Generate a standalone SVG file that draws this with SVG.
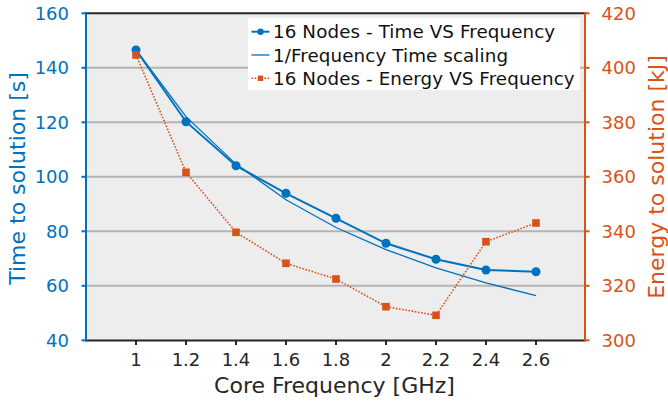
<svg xmlns="http://www.w3.org/2000/svg" width="668" height="401" viewBox="0 0 668 401">
<style>
text{font-family:"DejaVu Sans","Liberation Sans",sans-serif;}
.tl{font-size:18px;fill:#0072BD;text-anchor:end;}
.tr{font-size:18px;fill:#D95319;text-anchor:start;}
.tb{font-size:18px;fill:#262626;text-anchor:middle;}
.lab{font-size:22px;text-anchor:middle;}
.grid{stroke:#b4b4b4;stroke-width:2;}
.lg{font-size:18.3px;fill:#111;letter-spacing:0.1px;}
.time{fill:none;stroke:#0072BD;stroke-width:2;}
.rec{fill:none;stroke:#0072BD;stroke-width:1.3;}
.en{fill:none;stroke:#D95319;stroke-width:1.6;stroke-dasharray:1.6 1.6;}
</style>
<defs>
<circle id="cm" r="4.5" fill="#0072BD"/>
<rect id="sm" x="-3.8" y="-3.8" width="7.6" height="7.6" fill="#D95319"/>
</defs>
<rect width="668" height="401" fill="#ffffff"/>
<g id="plot-area">
<rect x="86" y="13" width="499" height="328" fill="#ededed"/>
<g id="gridlines">
<line class="grid" x1="86" y1="67.8" x2="585" y2="67.8"/>
<line class="grid" x1="86" y1="122.3" x2="585" y2="122.3"/>
<line class="grid" x1="86" y1="176.8" x2="585" y2="176.8"/>
<line class="grid" x1="86" y1="231.3" x2="585" y2="231.3"/>
<line class="grid" x1="86" y1="285.8" x2="585" y2="285.8"/>
</g>
</g>
<g id="series">
<g id="time-series">
<polyline class="time" points="136,50 186,121.7 236,165.7 286,193.3 336,218.3 386,243.3 436,259.3 486,270 536,271.7"/>
<use href="#cm" x="136" y="50"/><use href="#cm" x="186" y="121.7"/><use href="#cm" x="236" y="165.7"/><use href="#cm" x="286" y="193.3"/><use href="#cm" x="336" y="218.3"/><use href="#cm" x="386" y="243.3"/><use href="#cm" x="436" y="259.3"/><use href="#cm" x="486" y="270"/><use href="#cm" x="536" y="271.7"/>
</g>
<g id="reciprocal-series">
<polyline class="rec" points="136,50 186,116.6 236,164.1 286,199.7 336,227.5 386,249.6 436,267.8 486,282.9 536,295.7"/>
</g>
<g id="energy-series">
<polyline class="en" points="136,55 186,172.3 236,232.3 286,263.3 336,279 386,306.7 436,315.3 486,241.7 536,223"/>
<use href="#sm" x="136" y="55"/><use href="#sm" x="186" y="172.3"/><use href="#sm" x="236" y="232.3"/><use href="#sm" x="286" y="263.3"/><use href="#sm" x="336" y="279"/><use href="#sm" x="386" y="306.7"/><use href="#sm" x="436" y="315.3"/><use href="#sm" x="486" y="241.7"/><use href="#sm" x="536" y="223"/>
</g>
</g>
<g id="axes">
<line x1="85" y1="13.3" x2="586" y2="13.3" stroke="#262626" stroke-width="2"/>
<line x1="85" y1="340.5" x2="586" y2="340.5" stroke="#262626" stroke-width="2"/>
<g id="x-ticks" stroke="#262626" stroke-width="2">
<line x1="136" y1="340" x2="136" y2="345"/><line x1="186" y1="340" x2="186" y2="345"/><line x1="236" y1="340" x2="236" y2="345"/><line x1="286" y1="340" x2="286" y2="345"/><line x1="336" y1="340" x2="336" y2="345"/><line x1="386" y1="340" x2="386" y2="345"/><line x1="436" y1="340" x2="436" y2="345"/><line x1="486" y1="340" x2="486" y2="345"/><line x1="536" y1="340" x2="536" y2="345"/>
</g>
<line x1="86" y1="12.3" x2="86" y2="341.5" stroke="#0072BD" stroke-width="2"/>
<g id="left-ticks" stroke="#0072BD" stroke-width="2">
<line x1="81.5" y1="13.3" x2="86" y2="13.3"/><line x1="81.5" y1="67.8" x2="86" y2="67.8"/><line x1="81.5" y1="122.3" x2="86" y2="122.3"/><line x1="81.5" y1="176.8" x2="86" y2="176.8"/><line x1="81.5" y1="231.3" x2="86" y2="231.3"/><line x1="81.5" y1="285.8" x2="86" y2="285.8"/><line x1="81.5" y1="340.3" x2="86" y2="340.3"/>
</g>
<line x1="585" y1="12.3" x2="585" y2="341.5" stroke="#D95319" stroke-width="2"/>
<g id="right-ticks" stroke="#D95319" stroke-width="2">
<line x1="585" y1="13.3" x2="589.5" y2="13.3"/><line x1="585" y1="67.8" x2="589.5" y2="67.8"/><line x1="585" y1="122.3" x2="589.5" y2="122.3"/><line x1="585" y1="176.8" x2="589.5" y2="176.8"/><line x1="585" y1="231.3" x2="589.5" y2="231.3"/><line x1="585" y1="285.8" x2="589.5" y2="285.8"/><line x1="585" y1="340.3" x2="589.5" y2="340.3"/>
</g>
</g>
<g id="left-tick-labels">
<text class="tl" x="69" y="19.8">160</text>
<text class="tl" x="69" y="74.3">140</text>
<text class="tl" x="69" y="128.8">120</text>
<text class="tl" x="69" y="183.3">100</text>
<text class="tl" x="69" y="237.8">80</text>
<text class="tl" x="69" y="292.3">60</text>
<text class="tl" x="69" y="346.8">40</text>
</g>
<g id="right-tick-labels">
<text class="tr" x="601.5" y="19.8">420</text>
<text class="tr" x="601.5" y="74.3">400</text>
<text class="tr" x="601.5" y="128.8">380</text>
<text class="tr" x="601.5" y="183.3">360</text>
<text class="tr" x="601.5" y="237.8">340</text>
<text class="tr" x="601.5" y="292.3">320</text>
<text class="tr" x="601.5" y="346.8">300</text>
</g>
<g id="x-tick-labels">
<text class="tb" x="136" y="366">1</text>
<text class="tb" x="186" y="366">1.2</text>
<text class="tb" x="236" y="366">1.4</text>
<text class="tb" x="286" y="366">1.6</text>
<text class="tb" x="336" y="366">1.8</text>
<text class="tb" x="386" y="366">2</text>
<text class="tb" x="436" y="366">2.2</text>
<text class="tb" x="486" y="366">2.4</text>
<text class="tb" x="536" y="366">2.6</text>
</g>
<g id="axis-labels">
<text class="lab" x="334.5" y="392.5" fill="#262626">Core Frequency [GHz]</text>
<text class="lab" transform="translate(24.5,178.5) rotate(-90)" fill="#0072BD">Time to solution [s]</text>
<text class="lab" transform="translate(663.5,177) rotate(-90)" fill="#D95319">Energy to solution [kJ]</text>
</g>
<g id="legend">
<rect x="248" y="18" width="332" height="72" fill="#ffffff"/>
<line x1="251.5" y1="31.7" x2="269.5" y2="31.7" stroke="#0072BD" stroke-width="2"/>
<circle cx="260.5" cy="31.7" r="3.2" fill="#0072BD"/>
<text class="lg" x="273" y="38.2">16 Nodes - Time VS Frequency</text>
<line x1="251.5" y1="55" x2="269.5" y2="55" stroke="#0072BD" stroke-width="1.3"/>
<text class="lg" x="273" y="61.5">1/Frequency Time scaling</text>
<line x1="251.5" y1="78.3" x2="269.5" y2="78.3" class="en"/>
<rect x="257.8" y="75.6" width="5.4" height="5.4" fill="#D95319"/>
<text class="lg" x="273" y="84.8">16 Nodes - Energy VS Frequency</text>
</g>
</svg>
